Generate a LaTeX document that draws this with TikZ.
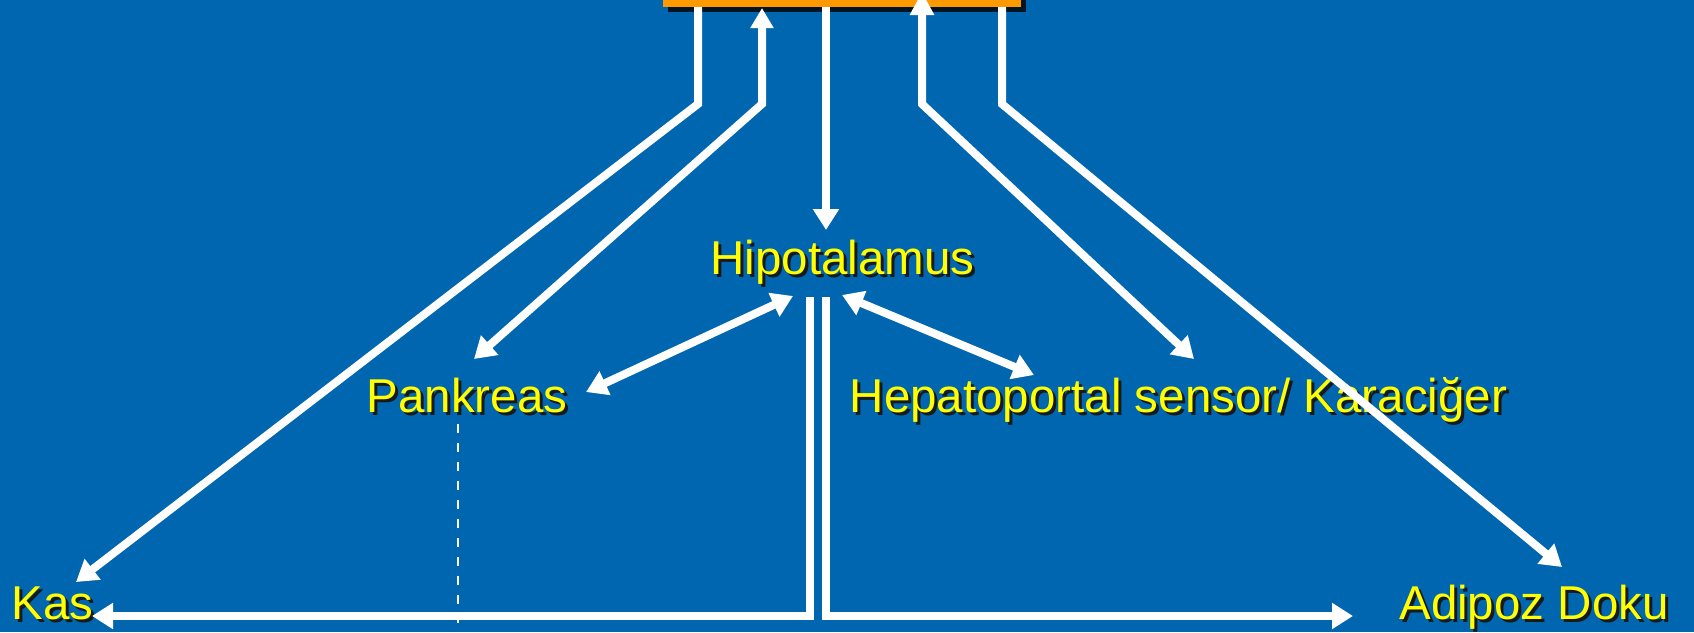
\documentclass[tikz,border=0pt]{standalone}
\usepackage{fontspec}
\setmainfont{Liberation Sans}
\usetikzlibrary{arrows.meta,shadows}
\definecolor{bgblue}{RGB}{0,102,176}
\definecolor{boxorange}{RGB}{255,153,0}
\definecolor{txtyellow}{RGB}{255,255,0}
\newcommand{\shtext}[1]{\makebox[0pt][l]{\hspace{3pt}\raisebox{-3pt}{\color{black!90}#1}}#1}
\begin{document}
\begin{tikzpicture}[x=1pt,y=-1pt,
  lbl/.style={text=txtyellow, font=\fontsize{47.5}{50}\selectfont, inner sep=0pt, anchor=base},
  conn/.style={draw=white, line width=8pt},
  headend/.style={-{Triangle[length=21pt,width=25pt]}},
  headboth/.style={{Triangle[length=21pt,width=25pt]}-{Triangle[length=21pt,width=25pt]}},
  boxstyle/.style={fill=boxorange, minimum width=358pt, minimum height=47pt, inner sep=0pt, anchor=south west,
     drop shadow={shadow xshift=5pt, shadow yshift=-5pt, fill=black, opacity=0.8}}
  ]
\useasboundingbox (0,0) rectangle (1694,632);
\fill[bgblue] (0,0) rectangle (1694,632);

% top box
\node[boxstyle] (brain) at (663,7) {};

% labels
\node[lbl] (hipo) at (842.5,274) {\shtext{Hipotalamus}};
\node[lbl] (pank) at (467,412) {\shtext{Pankreas}};
\node[lbl] (hepa) at (1178.5,412) {\shtext{Hepatoportal sensor/ Karaciğer}};
\node[lbl] (kas) at (52.5,619) {\shtext{Kas}};
\node[lbl] (adip) at (1534,619) {\shtext{Adipoz Doku}};

% coordinates
\coordinate (t1) at (698,7);   \coordinate (b1) at (698,104);  \coordinate (e1) at (76,582);
\coordinate (t2) at (762,8);   \coordinate (b2) at (762,104);  \coordinate (e2) at (474,359);
\coordinate (t3) at (826,7);   \coordinate (e3) at (826,230);
\coordinate (t4) at (922,-8);  \coordinate (b4) at (922,104);  \coordinate (e4) at (1194,359);
\coordinate (t5) at (1002,7);  \coordinate (b5) at (1002,104); \coordinate (e5) at (1562,567);
\coordinate (hl) at (810,297); \coordinate (cl) at (810,616);  \coordinate (kl) at (92,616);
\coordinate (hr) at (826,297); \coordinate (cr) at (826,616);  \coordinate (ar) at (1353,616);
\coordinate (pa) at (586,392); \coordinate (ha) at (793,296);
\coordinate (hb) at (842,295); \coordinate (ka) at (1034,375);
\coordinate (d1) at (458,424); \coordinate (d2) at (458,640);

% connectors
\draw[conn,headend] (t1) -- (b1) -- (e1);
\draw[conn,{Triangle[length=21pt,width=25pt]}-{Triangle[length=20pt,width=22pt]}] (e2) -- (b2) -- (t2);
\draw[conn,headend] (t3) -- (e3);
\draw[conn,{Triangle[length=21pt,width=25pt]}-{Triangle[length=23pt,width=23pt]}] (e4) -- (b4) -- (t4);
\draw[conn,headend] (t5) -- (b5) -- (e5);
\draw[conn,headend,line join=miter] (hl) -- (cl) -- (kl);
\draw[conn,headend,line join=miter] (hr) -- (cr) -- (ar);
\draw[conn,headboth] (pa) -- (ha);
\draw[conn,headboth] (hb) -- (ka);
\draw[white, line width=2.5pt, dash pattern=on 9pt off 10pt] (d1) -- (d2);
\end{tikzpicture}
\end{document}
